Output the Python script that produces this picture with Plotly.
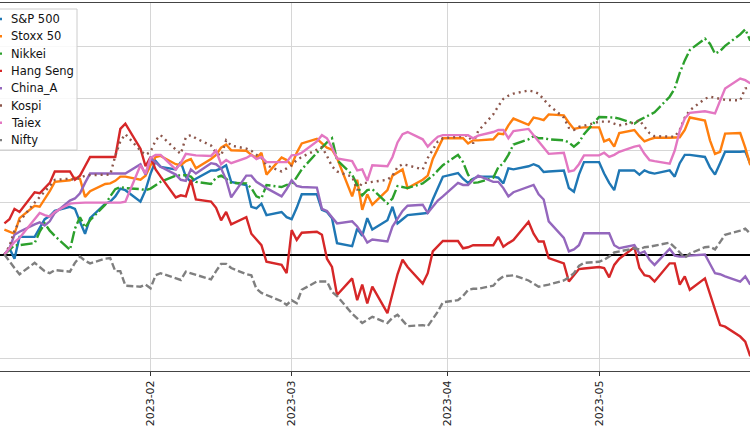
import plotly.graph_objects as go

dates = [
    "2023-01-03", "2023-01-04", "2023-01-05", "2023-01-06", "2023-01-09", "2023-01-10", "2023-01-11",
    "2023-01-12", "2023-01-13", "2023-01-16", "2023-01-17", "2023-01-18", "2023-01-19", "2023-01-20",
    "2023-01-23", "2023-01-24", "2023-01-25", "2023-01-26", "2023-01-27", "2023-01-30", "2023-01-31",
    "2023-02-01", "2023-02-02", "2023-02-03", "2023-02-06", "2023-02-07", "2023-02-08", "2023-02-09",
    "2023-02-10", "2023-02-13", "2023-02-14", "2023-02-15", "2023-02-16", "2023-02-17", "2023-02-20",
    "2023-02-21", "2023-02-22", "2023-02-23", "2023-02-24", "2023-02-27", "2023-02-28",
    "2023-03-01", "2023-03-02", "2023-03-03", "2023-03-06", "2023-03-07", "2023-03-08", "2023-03-09",
    "2023-03-10", "2023-03-13", "2023-03-14", "2023-03-15", "2023-03-16", "2023-03-17", "2023-03-20",
    "2023-03-21", "2023-03-22", "2023-03-23", "2023-03-24", "2023-03-27", "2023-03-28", "2023-03-29",
    "2023-03-30", "2023-03-31",
    "2023-04-03", "2023-04-04", "2023-04-05", "2023-04-06", "2023-04-07", "2023-04-10", "2023-04-11",
    "2023-04-12", "2023-04-13", "2023-04-14", "2023-04-17", "2023-04-18", "2023-04-19", "2023-04-20",
    "2023-04-21", "2023-04-24", "2023-04-25", "2023-04-26", "2023-04-27", "2023-04-28",
    "2023-05-01", "2023-05-02", "2023-05-03", "2023-05-04", "2023-05-05", "2023-05-08", "2023-05-09",
    "2023-05-10", "2023-05-11", "2023-05-12", "2023-05-15", "2023-05-16", "2023-05-17", "2023-05-18",
    "2023-05-19", "2023-05-22", "2023-05-23", "2023-05-24", "2023-05-25", "2023-05-26", "2023-05-29",
    "2023-05-30", "2023-05-31",
]

# cumulative returns, %
sp500 = [
    0, 0.6, -0.4, 1.7, 1.7, 2.5, 3.4, 3.7, 4.2, 4.6, 4.4, 3.15, 2.0, 3.5, 4.9, 5.1, 5.6, 6.35, 6.2, 5.1, 6.2,
    7.8, 9.0, 8.45, 8.2, 8.9, 7.5, 7.0, 7.3, 8.1, 8.1, 8.3, 8.6, 7.0, 6.7, 4.6, 4.45, 4.9, 3.8, 4.1, 3.6,
    3.4, 4.5, 5.8, 5.8, 4.3, 4.1, 3.5, 1.1, 0.8, 2.5, 1.8, 3.5, 2.4, 3.3, 4.6, 3.0, 3.4, 3.8, 3.95, 4.0,
    5.3, 6.4, 7.5,
    7.85, 7.3, 6.9, 7.3, 7.5, 7.5, 7.4, 6.85, 8.3, 8.2, 8.5, 8.7, 8.5, 7.95, 8.0, 8.1, 6.4, 6.05, 7.7, 8.9,
    8.9, 7.8, 6.9, 6.2, 8.1, 8.1, 7.7, 8.1, 7.9, 7.8, 8.1, 7.5, 8.8, 9.6, 9.6, 9.4, 8.4, 7.7, 8.8, 9.9,
    9.9, 9.95, 8.75,
]
stoxx50 = [
    2.4, 2.2, 2.0, 3.5, 4.7, 4.6, 5.3, 6.1, 7.0, 7.15, 7.4, 7.3, 5.55, 6.1, 6.8, 6.85, 7.1, 7.5, 7.5, 7.2, 7.6,
    8.6, 9.4, 9.5, 8.7, 8.6, 9.0, 9.2, 8.3, 9.2, 9.6, 10.3, 10.6, 10.05, 10.0, 9.6, 9.3, 9.8, 7.7, 9.35, 9.1,
    8.6, 9.8, 10.7, 11.15, 10.7, 10.3, 10.1, 9.3, 5.6, 7.2, 4.3, 5.8, 4.8, 6.2, 7.6, 7.9, 8.2, 6.4, 7.2, 7.6,
    9.2, 10.2, 11.2,
    11.2, 11.2, 10.7, 11.0, 11.0, 11.1, 11.65, 11.6, 12.45, 13.1, 12.5, 13.2, 13.1, 12.95, 13.5, 13.4, 12.7,
    12.1, 12.2, 12.25,
    12.25, 10.9, 11.1, 10.4, 11.7, 12.0, 11.4, 10.9, 11.1, 11.25, 11.25, 11.25, 11.3, 12.0, 13.2, 12.9, 11.0,
    9.7, 9.9, 11.65, 11.7, 10.3, 8.6,
]
nikkei = [
    0, 0.5, 0.9, 0.9, 1.1, 2.2, 3.0, 2.3, 1.8, 0.45, 2.5, 3.6, 2.6, 3.3, 4.8, 5.6, 6.3, 6.5, 6.4, 6.3, 6.2,
    6.35, 6.7, 7.0, 7.6, 7.65, 7.65, 7.5, 7.0, 6.8, 7.4, 7.6, 7.3, 6.9, 6.85, 6.4, 5.6, 5.4, 6.7, 6.5, 6.7,
    6.7, 7.5, 8.2, 9.8, 10.35, 10.8, 11.2, 9.1, 7.7, 6.7, 5.7, 6.2, 6.3, 4.9, 5.4, 6.6, 6.5, 6.4, 6.85, 7.2,
    7.6, 8.1, 8.6,
    9.6, 8.9, 7.7, 6.9, 6.95, 7.4, 8.4, 8.8, 9.6, 10.6, 11.1, 11.4, 11.2, 11.2, 11.1, 11.0, 10.8, 10.4, 10.8,
    11.6,
    13.25, 13.25, 13.25, 13.2, 13.1, 12.6, 12.95, 13.2, 13.4, 13.7, 15.2, 16.0, 17.5, 18.7, 19.7, 20.8, 20.3,
    19.35, 19.6, 20.1, 21.2, 21.7, 20.6,
]
hang_seng = [
    3.0, 3.4, 4.4, 4.1, 6.0, 5.9, 6.4, 6.9, 8.0, 8.0, 7.2, 7.6, 8.5, 9.4, 9.4, 9.4, 9.4, 12.1, 12.6, 10.2, 8.5,
    9.4, 8.2, 7.5, 5.5, 5.7, 5.6, 7.2, 5.3, 5.1, 4.5, 3.3, 4.1, 2.9, 3.6, 2.0, 1.4, 0.9, -0.7, -1.0, -1.8,
    2.35, 1.4, 2.1, 2.2, 1.9, -0.4, -1.2, -3.9, -2.3, -4.4, -2.9, -4.7, -3.1, -5.65, -3.7, -1.9, -0.5, -1.2,
    -2.8, -1.8, 0.3, 0.8, 1.3,
    1.3, 0.6, 0.7, 0.9, 0.9, 0.9, 1.7, 0.75, 1.1, 1.4, 3.15, 2.0, 1.25, 1.25, -0.35, -0.85, -2.6, -2.0, -1.4,
    -1.35,
    -1.2, -1.3, -2.2, -1.0, -0.4, 0.7, -1.3, -2.0, -2.1, -2.6, -0.85, -0.85, -2.9, -2.1, -3.4, -2.3, -3.8,
    -5.3, -6.8, -6.95, -7.9, -8.4, -9.8,
]
china_a = [
    0, 0.6, 1.9, 2.2, 2.9, 3.1, 2.8, 3.2, 4.0, 5.2, 5.4, 5.9, 6.9, 7.8, 7.8, 7.8, 7.8, 7.8, 7.8, 8.7, 7.7,
    9.3, 8.9, 8.45, 7.7, 7.2, 7.1, 8.2, 7.8, 8.8, 8.7, 8.3, 7.2, 5.5, 7.6, 7.6, 7.0, 6.7, 6.4, 5.6, 6.3,
    7.15, 6.6, 6.5, 6.45, 4.4, 4.2, 3.6, 3.0, 3.2, 2.7, 2.0, 1.15, 1.45, 1.25, 2.7, 3.4, 4.2, 4.7, 4.8, 4.0,
    4.6, 5.2, 5.6,
    6.9, 6.7, 6.7, 7.2, 7.6, 7.0, 7.0, 6.4, 5.6, 6.0, 6.5, 6.7, 5.8, 5.3, 3.2, 1.6, 0.3, 0.5, 0.9, 2.05,
    2.05, 2.05, 2.05, 0.9, 0.6, 0.9, 0.1, 0.3, -0.5, -1.0, 0.55, -0.1, -0.2, -0.2, -0.1, 0.0, -0.9, -1.8,
    -1.9, -2.1, -2.6, -2.1, -2.9,
]
kospi = [
    0, 0.8, 2.3, 3.2, 5.0, 5.5, 6.0, 6.6, 7.2, 7.3, 7.2, 7.4, 7.6, 7.65, 7.7, 7.7, 9.5, 10.9, 11.6, 10.0, 9.6,
    9.9, 11.0, 11.5, 10.1, 9.7, 11.3, 11.5, 11.2, 10.5, 9.8, 9.5, 11.0, 10.5, 10.2, 10.0, 9.6, 9.3, 8.6, 8.0,
    8.3,
    8.6, 9.1, 9.4, 10.1, 10.35, 9.5, 8.5, 8.0, 7.5, 6.2, 6.9, 6.9, 7.0, 7.2, 7.6, 8.4, 8.7, 8.6, 8.2, 9.3,
    10.1, 10.9, 11.2,
    11.3, 11.4, 11.5, 10.7, 11.9, 13.5, 14.3, 15.0, 15.3, 15.5, 15.8, 15.7, 15.5, 15.0, 14.4, 13.2, 12.2,
    12.0, 12.3, 12.4,
    12.8, 12.8, 12.8, 12.6, 12.45, 12.7, 12.95, 12.3, 11.7, 11.4, 11.35, 11.35, 12.0, 13.2, 13.9, 15.0, 15.2,
    15.1, 15.0, 14.9, 14.85, 16.0, 16.1,
]
taiex = [
    0, 0.6, 1.2, 1.6, 3.4, 4.0, 3.8, 3.65, 4.1, 4.9, 4.95, 5.0, 5.0, 5.0, 5.0, 5.0, 5.0, 5.0, 5.1, 8.6, 7.8,
    9.3, 9.6, 9.6, 8.2, 8.8, 9.7, 9.6, 9.55, 9.5, 10.0, 8.7, 9.1, 8.8, 9.3, 9.6, 9.2, 9.4, 8.9, 8.9, 8.9,
    9.55, 9.6, 9.8, 10.9, 11.5, 11.2, 10.3, 9.25, 9.0, 8.1, 8.2, 7.1, 8.6, 8.5, 9.4, 10.8, 11.6, 11.8, 11.1,
    10.4, 10.9, 11.35, 11.5,
    11.5, 11.5, 11.5, 11.2, 11.45, 11.8, 12.0, 12.0, 11.2, 11.9, 12.1, 11.5, 10.9, 10.3, 9.7, 9.8, 8.0, 8.1,
    8.7, 9.55,
    9.55, 9.8, 9.4, 9.6, 9.9, 10.4, 10.5, 9.7, 9.1, 9.0, 8.75, 10.0, 11.9, 13.1, 13.65, 13.8, 13.7, 13.6,
    14.8, 16.0, 16.95, 16.8, 16.5,
]
nifty = [
    0, -0.7, -1.3, -1.9, -0.8, -1.2, -1.6, -1.8, -1.5, -1.65, -0.8, -0.2, -0.6, -0.85, -0.4, -0.35, -1.6,
    -1.6, -3.0, -3.1, -2.9,
    -3.25, -2.0, -1.8, -2.3, -2.45, -1.65, -1.8, -2.0, -2.4, -1.6, -0.9, -0.9, -1.3, -1.9, -2.0, -3.3, -3.7,
    -3.9, -4.5, -4.85,
    -4.4, -4.7, -3.4, -2.6, -2.6, -2.6, -3.6, -4.0, -5.7, -6.2, -6.6, -6.3, -6.0, -6.6, -6.1, -5.8, -6.3,
    -6.9, -6.8, -6.9, -6.2, -5.5, -4.6,
    -4.4, -4.0, -3.4, -3.3, -3.3, -3.0, -2.45, -2.1, -2.05, -2.0, -2.5, -2.8, -3.1, -3.0, -2.9, -2.5, -2.2,
    -1.8, -1.1, -0.8,
    -0.7, -0.5, -0.2, 0.2, 0.3, 0.6, 0.5, 0.7, 0.75, 0.85, 1.15, 0.7, 0.2, -0.3, 0.1, 0.7, 0.75, 0.5, 1.2,
    1.9, 2.3, 2.5, 2.0,
]

series_names = ["S&P 500", "Stoxx 50", "Nikkei", "Hang Seng", "China_A", "Kospi", "Taiex", "Nifty"]
series_values = [sp500, stoxx50, nikkei, hang_seng, china_a, kospi, taiex, nifty]
colors = ["#1f77b4", "#ff7f0e", "#2ca02c", "#d62728", "#9467bd", "#8c564b", "#e377c2", "#7f7f7f"]
dashes = ["solid", "solid", "12px,3px,2px,3px", "solid", "solid", "2px,4px", "solid", "7px,3px"]

W, H = 750, 430
M_T, M_B = 3, 59
PH = H - M_T - M_B  # plot-area height in px
LW = 2.4

fig = go.Figure()
for name, vals, col, dash in zip(series_names, series_values, colors, dashes):
    fig.add_trace(go.Scatter(
        x=dates, y=vals, name=name, mode="lines",
        line=dict(color=col, width=LW, dash=dash),
    ))

# legend box (matplotlib-style, its left part lies beyond the left edge of the picture)
def py(p):
    return (H - M_B - p) / PH

shapes = [dict(type="rect", xref="paper", yref="paper", x0=-0.06, x1=77 / W, y0=py(150), y1=py(9),
               fillcolor="rgba(255,255,255,0.85)", line=dict(color="#cccccc", width=1), layer="above")]
annotations = []
for i, (name, col, dash) in enumerate(zip(series_names, colors, dashes)):
    yc = 19 + i * 17.3
    shapes.append(dict(type="line", xref="paper", yref="paper", x0=-24 / W, x1=2 / W, y0=py(yc), y1=py(yc),
                       line=dict(color=col, width=LW, dash=dash), layer="above"))
    annotations.append(dict(text=name, xref="paper", yref="paper", x=9 / W, y=py(yc),
                            xanchor="left", yanchor="middle", showarrow=False,
                            font=dict(family="DejaVu Sans", size=11.5, color="#111")))

fig.update_layout(
    width=W, height=H,
    margin=dict(l=0, r=0, t=M_T, b=M_B, autoexpand=False),
    plot_bgcolor="white", paper_bgcolor="white",
    font=dict(family="DejaVu Sans", size=11, color="#111"),
    showlegend=False,
    shapes=shapes,
    annotations=annotations,
)
fig.update_xaxes(
    type="date",
    range=["2023-01-02 03:03", "2023-05-30 22:34"],
    tick0="2023-01-01", dtick="M1", tickformat="%Y-%m",
    tickangle=-90, ticks="outside", ticklen=4, tickcolor="#333", tickwidth=1,
    tickfont=dict(family="DejaVu Sans", size=11, color="#222"),
    showgrid=True, gridcolor="#d6d6d6", gridwidth=1,
    showline=True, linecolor="#444", linewidth=1, mirror=True,
    zeroline=False,
)
fig.update_yaxes(
    range=[-11.22, 24.23], tick0=0, dtick=5,
    showgrid=True, gridcolor="#d6d6d6", gridwidth=1,
    zeroline=True, zerolinecolor="black", zerolinewidth=1.5,
    showticklabels=False, ticks="", showline=False,
)

fig.write_html(
    "out.html",
    config={"displayModeBar": False},
    post_script="document.body.style.margin='0';document.body.style.overflow='hidden';",
)
